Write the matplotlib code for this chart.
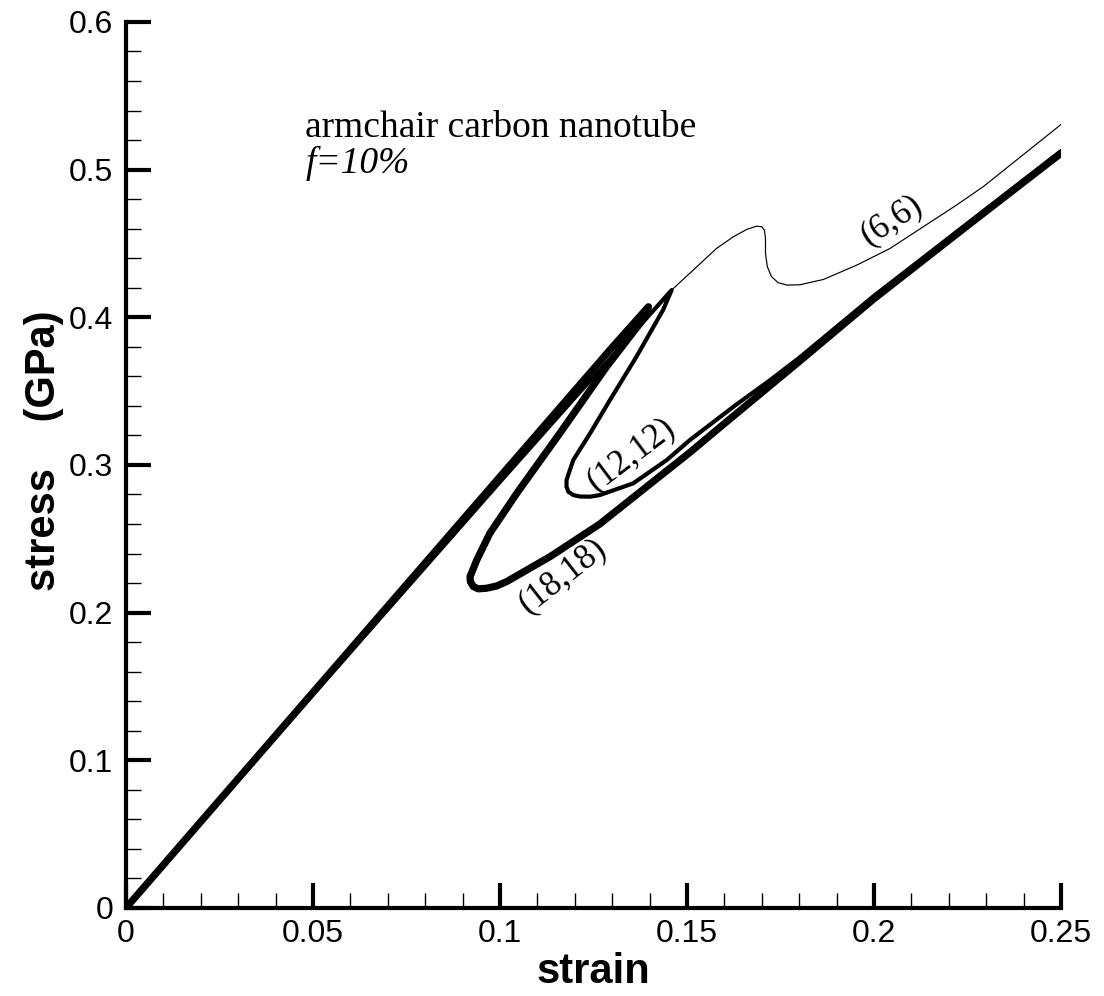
import matplotlib.pyplot as plt
from matplotlib.ticker import MultipleLocator

# (6,6) armchair tube - thin line
x_66 = [0.0, 0.05, 0.10, 0.12, 0.135, 0.1459, 0.1517, 0.1579, 0.1624, 0.1660,
        0.1686, 0.1700, 0.1707, 0.1710, 0.1710, 0.1715, 0.1726, 0.1744, 0.1767,
        0.1802, 0.1865, 0.1954, 0.2043, 0.2132, 0.2221, 0.2292, 0.25]
y_66 = [0.0, 0.1445, 0.2885, 0.3455, 0.3875, 0.4184, 0.432, 0.4466, 0.4545, 0.4595,
        0.4617, 0.4613, 0.4590, 0.4534, 0.4432, 0.4342, 0.4275, 0.4234, 0.4218,
        0.4220, 0.4256, 0.4353, 0.4466, 0.4613, 0.4760, 0.4884, 0.5305]

# (12,12) armchair tube - medium line
x_1212 = [0.0, 0.05, 0.10, 0.12, 0.135, 0.1459, 0.1436, 0.1365, 0.1294, 0.1241,
          0.1196, 0.1178, 0.1178, 0.1183, 0.1196, 0.1214, 0.1241, 0.1267, 0.1356,
          0.1446, 0.1508, 0.163, 0.172, 0.18, 0.20, 0.225, 0.25]
y_1212 = [0.0, 0.1445, 0.2885, 0.3455, 0.3875, 0.4184, 0.4049, 0.3733, 0.3439, 0.3214,
          0.3033, 0.2898, 0.2852, 0.2818, 0.2796, 0.2786, 0.2785, 0.2796, 0.2875,
          0.3033, 0.3169, 0.3405, 0.357, 0.3725, 0.4145, 0.4635, 0.5125]

# (18,18) armchair tube - thick line
x_1818 = [0.0, 0.05, 0.10, 0.12, 0.13, 0.1397, 0.1388, 0.1285, 0.1160, 0.1045,
          0.0973, 0.0938, 0.0920, 0.0921, 0.0929, 0.0942, 0.0964, 0.0991, 0.1018,
          0.1134, 0.1267, 0.1401, 0.1508, 0.16, 0.18, 0.20, 0.225, 0.25]
y_1818 = [0.0, 0.146, 0.292, 0.3504, 0.3796, 0.4071, 0.4003, 0.3665, 0.3214, 0.2808,
          0.2537, 0.2356, 0.2243, 0.2209, 0.2176, 0.2161, 0.2165, 0.2180, 0.2210,
          0.2379, 0.2600, 0.2870, 0.3085, 0.328, 0.370, 0.4125, 0.462, 0.511]

x_ticks = [0, 0.05, 0.1, 0.15, 0.2, 0.25]
x_labels = ['0', '0.05', '0.1', '0.15', '0.2', '0.25']
y_ticks = [0, 0.1, 0.2, 0.3, 0.4, 0.5, 0.6]
y_labels = ['0', '0.1', '0.2', '0.3', '0.4', '0.5', '0.6']

plt.rcParams['font.family'] = ['Liberation Sans', 'DejaVu Sans']

fig = plt.figure(figsize=(11.04, 9.96), dpi=100)
ax = fig.add_axes([0.1141, 0.0884, 0.8469, 0.8896])

ax.plot(x_66, y_66, color='black', lw=0.85, solid_joinstyle='round')
ax.plot(x_1212, y_1212, color='black', lw=3.0, solid_joinstyle='round', solid_capstyle='round')
ax.plot(x_1818, y_1818, color='black', lw=5.2, solid_joinstyle='round', solid_capstyle='round')

ax.set_xlim(0, 0.25)
ax.set_ylim(0, 0.6)

for side in ['top', 'right']:
    ax.spines[side].set_visible(False)
for side in ['left', 'bottom']:
    ax.spines[side].set_linewidth(3)

ax.set_xticks(x_ticks)
ax.set_xticklabels(x_labels)
ax.set_yticks(y_ticks)
ax.set_yticklabels(y_labels)
ax.xaxis.set_minor_locator(MultipleLocator(0.01))
ax.yaxis.set_minor_locator(MultipleLocator(0.02))
ax.tick_params(which='major', direction='in', length=18, width=3, labelsize=23)
ax.tick_params(axis='x', which='major', pad=8)
ax.tick_params(axis='y', which='major', pad=9)
ax.tick_params(which='minor', direction='in', length=11, width=1)
ax.tick_params(top=False, right=False, which='both')

ax.set_xlabel('strain', fontsize=30, fontweight='bold')
ax.set_ylabel('stress    (GPa)', fontsize=30, fontweight='bold')
ax.xaxis.set_label_coords(0.5, -0.05)
ax.yaxis.set_label_coords(-0.066, 0.516)

serif = ['Liberation Serif', 'DejaVu Serif']
ax.text(0.0479, 0.528, 'armchair carbon nanotube', family=serif, fontsize=27, va='center')
ax.text(0.0479, 0.504, 'f=10%', family=serif, fontsize=27, style='italic', va='center')

ax.text(0.2048, 0.4658, '(6,6)', family=serif, fontsize=25, rotation=33,
        ha='center', va='center', rotation_mode='anchor')
ax.text(0.1350, 0.3070, '(12,12)', family=serif, fontsize=25, rotation=37,
        ha='center', va='center', rotation_mode='anchor')
ax.text(0.1168, 0.2248, '(18,18)', family=serif, fontsize=25, rotation=38,
        ha='center', va='center', rotation_mode='anchor')

plt.savefig('out.png', dpi=100)
